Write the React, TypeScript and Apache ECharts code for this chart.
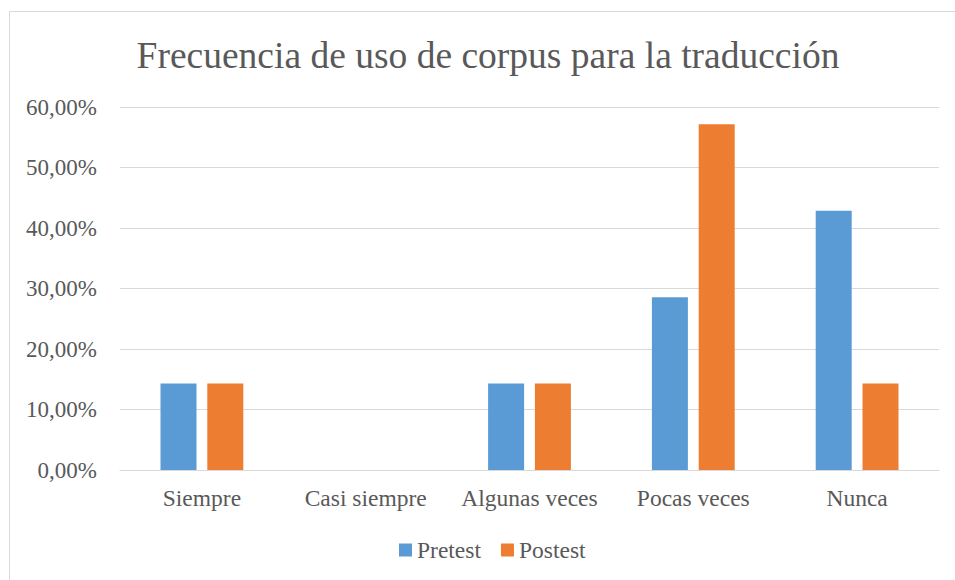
import React, { useEffect, useRef } from "react";
import * as echarts from "echarts";

const categories = ["Siempre", "Casi siempre", "Algunas veces", "Pocas veces", "Nunca"];
const pretest = [14.29, 0, 14.29, 28.57, 42.86];
const postest = [14.29, 0, 14.29, 57.14, 14.29];
const titleText = "Frecuencia de uso de corpus para la traducción";

const FONT = "'Liberation Serif', 'Times New Roman', serif";
const TXT = "#595959";

export default function App() {
  const ref = useRef<HTMLDivElement>(null);
  useEffect(() => {
    if (!ref.current) return;
    const chart = echarts.init(ref.current, null, { renderer: "svg" });
    chart.setOption({
      animation: false,
      backgroundColor: "#ffffff",
      textStyle: { fontFamily: FONT, color: TXT },
      graphic: [
        {
          type: "rect",
          shape: { x: 9.5, y: 11.5, width: 1000, height: 1000 },
          style: { fill: "none", stroke: "#d9d9d9", lineWidth: 1 },
          silent: true,
        },
      ],
      title: {
        text: titleText,
        left: 483,
        textAlign: "center",
        top: 31,
        textStyle: { fontFamily: FONT, fontSize: 37.5, fontWeight: "normal", color: TXT },
      },
      legend: {
        data: ["Pretest", "Postest"],
        left: 394,
        top: 533,
        itemWidth: 13,
        itemHeight: 13,
        itemGap: 20,
        icon: "rect",
        textStyle: { fontFamily: FONT, fontSize: 23.5, color: TXT },
      },
      grid: { left: 120, right: 16, top: 107, bottom: 110, containLabel: false },
      xAxis: {
        type: "category",
        data: categories,
        axisLine: { lineStyle: { color: "#d9d9d9" } },
        axisTick: { show: false },
        axisLabel: { fontFamily: FONT, fontSize: 23.5, color: TXT, margin: 16, interval: 0 },
      },
      yAxis: {
        type: "value",
        min: 0,
        max: 60,
        interval: 10,
        axisLine: { show: false },
        axisTick: { show: false },
        splitLine: { lineStyle: { color: "#d9d9d9" } },
        axisLabel: {
          fontFamily: FONT,
          fontSize: 23,
          color: TXT,
          margin: 23,
          formatter: (v: number) => v.toFixed(2).replace(".", ",") + "%",
        },
      },
      series: [
        {
          name: "Pretest",
          type: "bar",
          data: pretest,
          barWidth: 36,
          barGap: "30%",
          itemStyle: { color: "#5b9bd5" },
        },
        {
          name: "Postest",
          type: "bar",
          data: postest,
          barWidth: 36,
          barGap: "30%",
          itemStyle: { color: "#ed7d31" },
        },
      ],
    });
    return () => chart.dispose();
  }, []);
  return (
    <div
      ref={ref}
      style={{ position: "fixed", left: 0, top: 0, width: 955, height: 580 }}
    />
  );
}
